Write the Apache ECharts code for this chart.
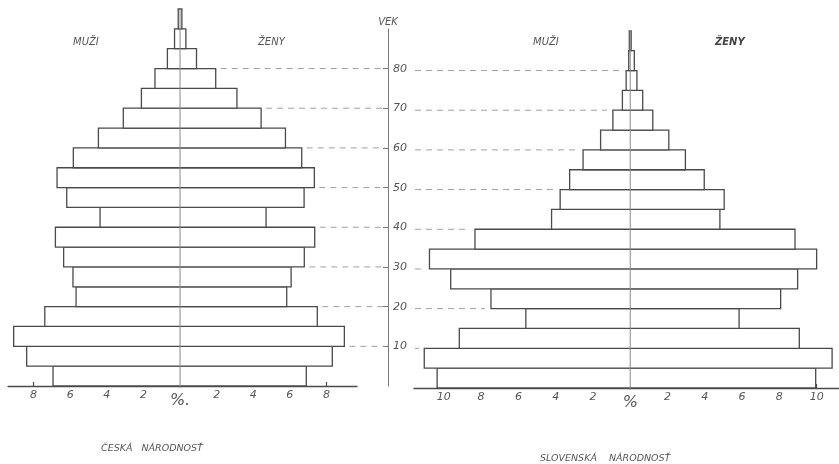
<!DOCTYPE html>
<html><head><meta charset="utf-8">
<script src="https://cdn.jsdelivr.net/npm/echarts@6/dist/echarts.min.js"></script>
<style>html,body{margin:0;padding:0;background:#fff}#c{width:839px;height:464px}</style>
</head><body><div id="c"></div>
<script>
// ---- data (percent of population, 5-year age groups) ----
const groupSpan = 5;
const ageStartCZ = [0,5,10,15,20,25,30,35,40,45,50,55,60,65,70,75,80,85,90];
const czMen   = [6.94,8.38,9.09,7.39,5.68,5.85,6.36,6.81,4.37,6.19,6.72,5.83,4.46,3.10,2.11,1.37,0.69,0.30,0.10];
const czWomen = [6.90,8.32,8.98,7.50,5.83,6.07,6.79,7.36,4.70,6.78,7.34,6.65,5.76,4.43,3.11,1.95,0.90,0.32,0.10];
const ageStartSK = [0,5,10,15,20,25,30,35,40,45,50,55,60,65,70,75,80,85];
const skMen   = [10.36,11.05,9.17,5.60,7.47,9.63,10.77,8.33,4.22,3.76,3.25,2.53,1.59,0.93,0.42,0.22,0.08,0.05];
const skWomen = [9.95,10.83,9.07,5.84,8.07,8.98,10.00,8.84,4.81,5.04,3.97,2.96,2.07,1.21,0.67,0.36,0.22,0.05];
const ageTicks = [10,20,30,40,50,60,70,80];
const pctTicksCZ = [-8,-6,-4,-2,0,2,4,6,8];
const pctTicksSK = [-10,-8,-6,-4,-2,0,2,4,6,8,10];

// ---- helpers ----
const MID_X = 388;
const INK = '#4a4a4a';
const FONT = 'DejaVu Sans';
function bars(starts, men, women){ return starts.map((a,i)=>[a, a+groupSpan, men[i], women[i]]); }
function edgeAt(age, starts, vals){
  let m = 0;
  starts.forEach((a,i)=>{ if (a===age || a+groupSpan===age) m = Math.max(m, vals[i]); });
  return m;
}
function barItem(params, api){
  const a0 = api.value(0), a1 = api.value(1), m = api.value(2), w = api.value(3);
  const p1 = api.coord([-m, a1]), p2 = api.coord([w, a0]);
  return {type:'rect', shape:{x:p1[0], y:p1[1], width:p2[0]-p1[0], height:p2[1]-p1[1]},
    style:{fill:'#fff', stroke:INK, lineWidth:1.3}};
}
function centerItem(params, api){
  const p1 = api.coord([0, 0]), p2 = api.coord([0, api.value(0)]);
  return {type:'line', shape:{x1:p1[0], y1:p1[1]+2, x2:p2[0], y2:p2[1]}, style:{stroke:'#8a8a8a', lineWidth:1}};
}
const dashStyle = {stroke:'#a0a0a0', lineWidth:1, lineDash:[6,5]};
function leftDash(params, api){
  const p = api.coord([api.value(1), api.value(0)]);
  return {type:'line', shape:{x1:p[0]+5, y1:p[1], x2:MID_X-3, y2:p[1]}, style:dashStyle};
}
function rightDash(params, api){
  const p = api.coord([-api.value(1), api.value(0)]);
  const x1 = params.coordSys.x + 1;
  const x2 = Math.max(x1 + 4, p[0] - 6);
  return {type:'line', shape:{x1:x1, y1:p[1], x2:x2, y2:p[1]}, style:dashStyle};
}
function pctAxis(idx, min, max, ticks, pctText){
  return {
    type:'value', gridIndex:idx, min:min, max:max,
    axisLine:{show:true, onZero:false, lineStyle:{color:INK, width:1.3}},
    axisTick:{show:true, customValues:ticks, inside:true, length:4, lineStyle:{color:INK, width:1.2}},
    axisLabel:{show:true, customValues:ticks, margin:4, color:'#555', fontFamily:FONT, fontStyle:'italic', fontSize:11,
      formatter:(v)=> v===0 ? '{p|'+pctText+'}' : String(Math.abs(v)),
      rich:{p:{fontSize:16, fontFamily:FONT, fontStyle:'italic', color:'#555', padding:[3,0,0,0]}}},
    splitLine:{show:false}
  };
}
const hiddenAge = (idx)=>({type:'value', gridIndex:idx, min:0, max:95, show:false});
const txt = (x, y, s, extra)=>({type:'text', left:x, top:y, style:Object.assign({text:s, fill:'#555', font:'italic 10px "DejaVu Sans"'}, extra||{})});

const chart = echarts.init(document.getElementById('c'), null, {renderer:'canvas'});
chart.setOption({
  backgroundColor:'#ffffff',
  animation:false,
  grid:[
    {left:8, top:9, width:349, height:377},
    {left:414, top:11, width:426, height:377},
    {left:MID_X, top:29, width:1, height:357}
  ],
  xAxis:[
    pctAxis(0, -9.4, 9.67, pctTicksCZ, '%.'),
    pctAxis(1, -11.6, 11.2, pctTicksSK, '%'),
    {type:'value', gridIndex:2, min:0, max:1, show:false}
  ],
  yAxis:[
    hiddenAge(0), hiddenAge(1),
    {type:'value', gridIndex:2, min:0, max:90, position:'left',
      name:'VEK', nameLocation:'end', nameGap:2,
      nameTextStyle:{color:'#555', fontFamily:FONT, fontStyle:'italic', fontSize:10, align:'center'},
      axisLine:{show:true, lineStyle:{color:'#777', width:1}},
      axisTick:{show:true, customValues:ageTicks, inside:false, length:5, lineStyle:{color:'#777'}},
      axisLabel:{show:true, customValues:ageTicks, inside:true, margin:5, color:'#555', fontFamily:FONT, fontStyle:'italic', fontSize:11},
      splitLine:{show:false}}
  ],
  series:[
    {type:'custom', xAxisIndex:0, yAxisIndex:0, renderItem:leftDash,
      data: ageTicks.map(a=>[a, edgeAt(a, ageStartCZ, czWomen)]), z:1},
    {type:'custom', xAxisIndex:1, yAxisIndex:1, renderItem:rightDash,
      data: ageTicks.map(a=>[a, edgeAt(a, ageStartSK, skMen)]), z:1},
    {type:'custom', xAxisIndex:0, yAxisIndex:0, renderItem:barItem, data:bars(ageStartCZ, czMen, czWomen), z:2},
    {type:'custom', xAxisIndex:1, yAxisIndex:1, renderItem:barItem, data:bars(ageStartSK, skMen, skWomen), z:2},
    {type:'custom', xAxisIndex:0, yAxisIndex:0, renderItem:centerItem,
      data:[[ageStartCZ[ageStartCZ.length-1]+groupSpan]], z:3},
    {type:'custom', xAxisIndex:1, yAxisIndex:1, renderItem:centerItem,
      data:[[ageStartSK[ageStartSK.length-1]+groupSpan]], z:3}
  ],
  graphic:[
    txt(73, 37, 'MUŽI'),
    txt(258, 37, 'ŽENY'),
    txt(533, 37, 'MUŽI'),
    txt(715, 37, 'ŽENY', {font:'italic bold 10px "DejaVu Sans"', fill:'#444'}),
    txt(101, 444, 'ČESKÁ   NÁRODNOSŤ', {font:'italic 9.5px "DejaVu Sans"'}),
    txt(540, 454, 'SLOVENSKÁ    NÁRODNOSŤ', {font:'italic 9.5px "DejaVu Sans"'})
  ]
});
</script></body></html>
